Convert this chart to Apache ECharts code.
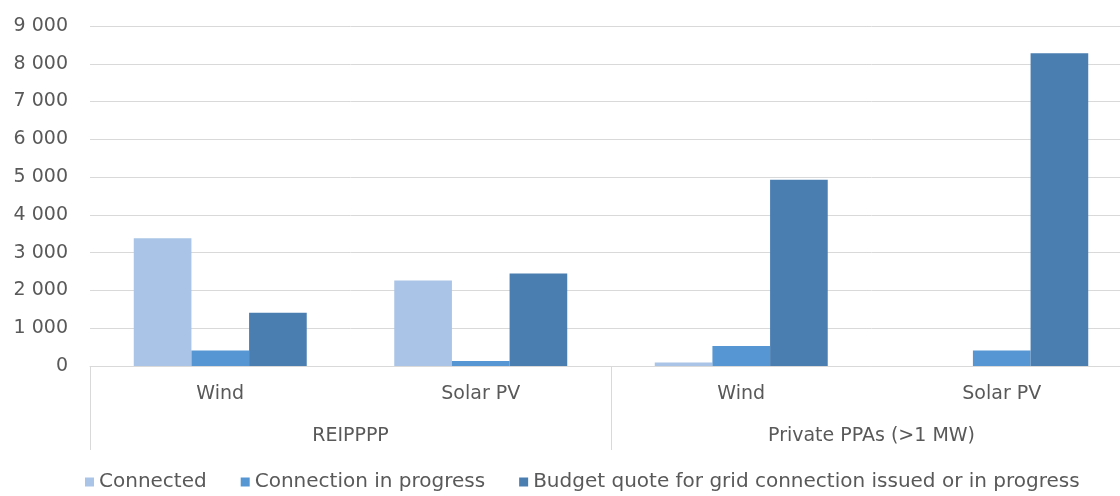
<!DOCTYPE html>
<html>
<head>
<meta charset="utf-8">
<script src="https://cdn.jsdelivr.net/npm/echarts@6/dist/echarts.min.js"></script>
<style>
html,body{margin:0;padding:0;background:#fff;overflow:hidden;width:1120px;height:496px;}
#chart{width:1132px;height:496px;}
</style>
</head>
<body>
<div id="chart"></div>
<script>
var categories = ['Wind', 'Solar PV', 'Wind', 'Solar PV'];
var groups = ['REIPPPP', 'Private PPAs (>1 MW)'];
var seriesNames = ['Connected', 'Connection in progress', 'Budget quote for grid connection issued or in progress'];
var connected = [3380, 2260, 90, 0];
var inProgress = [410, 130, 530, 410];
var budget = [1410, 2450, 4930, 8280];
var yTickLabels = ['0', '1 000', '2 000', '3 000', '4 000', '5 000', '6 000', '7 000', '8 000', '9 000'];

var FONT = 'DejaVu Sans';
var TXT = '#595959';
var GRIDC = '#d9d9d9';
var colors = ['#A9C4E6', '#5596D3', '#4A7EB1'];

var chart = echarts.init(document.getElementById('chart'), null, {renderer: 'canvas'});
chart.setOption({
  animation: false,
  backgroundColor: '#ffffff',
  color: colors,
  grid: {left: 90, right: 0, top: 26, bottom: 130, containLabel: false},
  legend: {
    data: seriesNames,
    left: 80,
    top: 467,
    itemWidth: 9,
    itemHeight: 9,
    itemGap: 34,
    icon: 'rect',
    textStyle: {fontFamily: FONT, fontSize: 20, color: TXT}
  },
  xAxis: [
    {
      type: 'category',
      data: categories,
      position: 'bottom',
      axisLine: {show: true, lineStyle: {color: GRIDC, width: 1}},
      axisTick: {show: false},
      axisLabel: {margin: 19, fontFamily: FONT, fontSize: 19, color: TXT, interval: 0}
    },
    {
      type: 'category',
      data: groups,
      position: 'bottom',
      boundaryGap: true,
      axisLine: {show: false},
      axisTick: {show: true, length: 84, interval: 0, lineStyle: {color: GRIDC, width: 1}},
      axisLabel: {margin: 61, fontFamily: FONT, fontSize: 19, color: TXT, interval: 0}
    }
  ],
  yAxis: {
    type: 'value',
    min: 0,
    max: 9000,
    interval: 1000,
    axisLine: {show: false},
    axisTick: {show: false},
    splitLine: {show: true, lineStyle: {color: GRIDC, width: 1}},
    axisLabel: {
      margin: 22,
      fontFamily: FONT,
      fontSize: 19,
      color: TXT,
      formatter: function (v) { return yTickLabels[Math.round(v / 1000)]; }
    }
  },
  series: [
    {name: seriesNames[0], type: 'bar', data: connected, barGap: '0%', barCategoryGap: '33.6%', xAxisIndex: 0},
    {name: seriesNames[1], type: 'bar', data: inProgress, barGap: '0%', barCategoryGap: '33.6%', xAxisIndex: 0},
    {name: seriesNames[2], type: 'bar', data: budget, barGap: '0%', barCategoryGap: '33.6%', xAxisIndex: 0}
  ]
});
</script>
</body>
</html>
